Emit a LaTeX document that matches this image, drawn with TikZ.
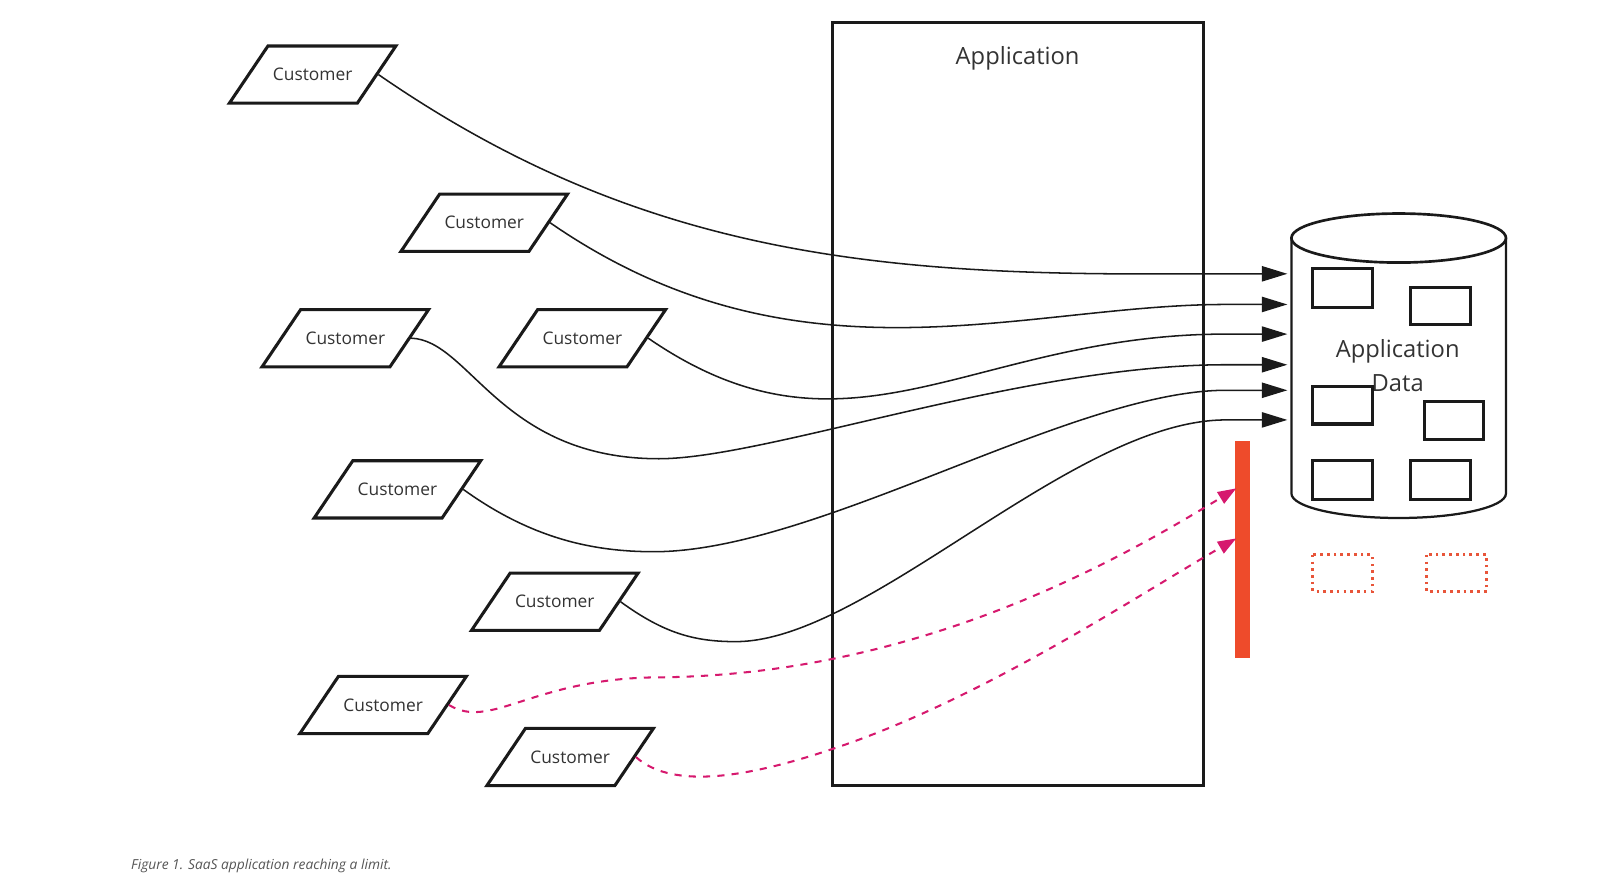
\documentclass[tikz,border=0pt]{standalone}
\usepackage{fontspec}
\setmainfont{Open Sans}
\usetikzlibrary{shapes.geometric,arrows.meta}
\definecolor{txt}{HTML}{333333}
\definecolor{capc}{HTML}{555555}
\definecolor{mag}{HTML}{D6196E}
\definecolor{barred}{HTML}{EE4B2B}
\definecolor{dotred}{HTML}{E8553A}
\definecolor{ink}{HTML}{1A1A1A}
\begin{document}
\begin{tikzpicture}[x=0.5pt,y=-0.5pt,
  cust/.style={shape=trapezium, trapezium left angle=56, trapezium right angle=124,
    trapezium stretches body, minimum width=81.5pt,
    text height=17pt, text depth=11pt, inner ysep=0pt, inner xsep=2pt,
    draw=ink, line width=1.5pt, font=\fontsize{8.5}{10}\selectfont, text=txt},
  curve/.style={line width=0.75pt, draw=ink, -{Triangle[length=12.5pt,width=7.5pt]}},
  dcurve/.style={line width=1pt, draw=mag, dash pattern=on 3.5pt off 3.5pt,
    -{Triangle[length=9pt,width=6.5pt,fill=mag]}},
  cell/.style={draw=ink, line width=1.5pt},
  ghost/.style={draw=dotred, line width=1.4pt, dash pattern=on 1.3pt off 2pt},
  bigtxt/.style={font=\fontsize{11.6}{16.5}\selectfont, text=txt, inner sep=0pt}
]
\useasboundingbox (0,0) rectangle (1568,866);

% application box
\node[draw=ink, line width=1.5pt, minimum width=181.5pt, minimum height=373.5pt, inner sep=0pt] (app) at (996.5,395.5) {};
\node[bigtxt] (apptitle) at (996,57) {Application};

% database cylinder
\draw[ink, line width=1.1pt] (1264,233) -- (1264,483) arc[start angle=180, end angle=0, x radius=105, y radius=24] -- (1474,233);
\draw[ink, line width=1.3pt, fill=white] (1369,233) ellipse[x radius=105, y radius=24];
\node[bigtxt, align=center] (dbtxt) at (1368,358) {Application\\Data};
\draw[cell] (1285,263) rectangle (1343,301);
\draw[cell] (1381,281) rectangle (1439,318);
\draw[cell] (1285,378) rectangle (1343,415);
\draw[cell] (1394,393) rectangle (1452,430);
\draw[cell] (1285,451) rectangle (1343,489);
\draw[cell] (1381,451) rectangle (1439,489);
\draw[ghost] (1285,543) rectangle (1343,579);
\draw[ghost] (1396,543) rectangle (1455,579);

% limit bar
\fill[barred] (1209,432) rectangle (1223,644);

% customers
\node[cust] (c1) at (306,73) {Customer};
\node[cust] (c2) at (474,218) {Customer};
\node[cust] (c3) at (338,331) {Customer};
\node[cust] (c4) at (570,331) {Customer};
\node[cust] (c5) at (389,479) {Customer};
\node[cust] (c6) at (543,589) {Customer};
\node[cust] (c7) at (375,690) {Customer};
\node[cust] (c8) at (558,741) {Customer};

% arrow ends
\coordinate (e1) at (1260,268);
\coordinate (e2) at (1260,298);
\coordinate (e3) at (1260,327);
\coordinate (e4) at (1260,357);
\coordinate (e5) at (1260,382);
\coordinate (e6) at (1260,411);
\coordinate (b1) at (1210,478);
\coordinate (b2) at (1210,527);

\draw[curve] (c1.east) .. controls (621,246) and (850,270) .. (1150,268) -- (e1);
\draw[curve] (c2.east) .. controls (780,385) and (1000,298) .. (1200,298) -- (e2);
\draw[curve] (c4.east) .. controls (832,467) and (950,327) .. (1200,327) -- (e3);
\draw[curve] (c3.east) .. controls (460,333) and (490,449) .. (645,449)
   .. controls (750,449) and (1000,357) .. (1200,357) -- (e4);
\draw[curve] (c5.east) .. controls (520,527) and (580,540) .. (640,540)
   .. controls (800,540) and (1050,382) .. (1200,382) -- (e5);
\draw[curve] (c6.east) .. controls (650,620) and (680,628) .. (720,628)
   .. controls (850,628) and (1050,411) .. (1200,411) -- (e6);

\draw[dcurve] (c7.east) .. controls (480,715) and (520,665) .. (640,663)
   .. controls (900,662) and (1100,545) .. (b1);
\draw[dcurve] (c8.east) .. controls (655,770) and (720,765) .. (815,733)
   .. controls (960,685) and (1110,585) .. (b2);

% caption
\node[anchor=west, inner sep=0pt, text=capc, font=\fontsize{6.75}{8}\selectfont\itshape] (cap) at (128,848) {Figure 1. SaaS application reaching a limit.};
\end{tikzpicture}
\end{document}
